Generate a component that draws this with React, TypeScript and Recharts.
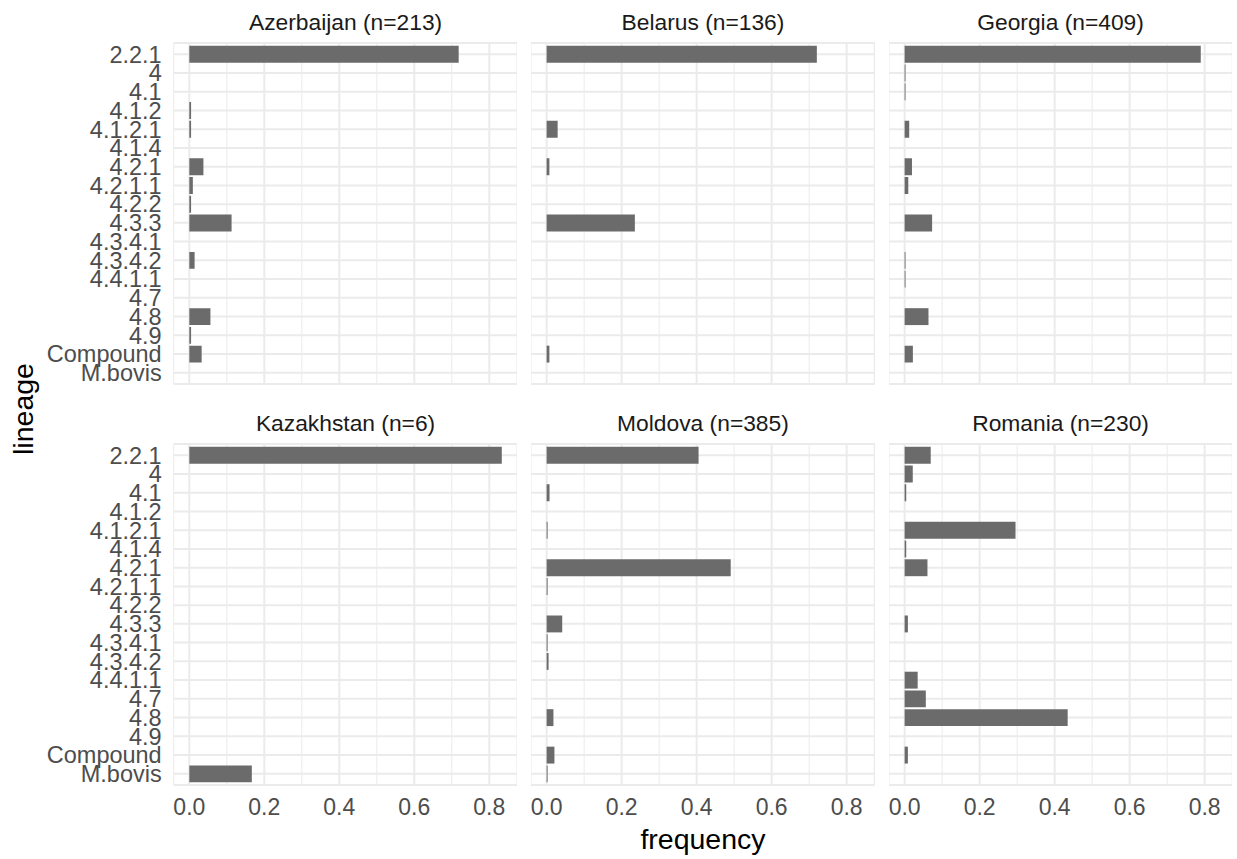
import { BarChart, Bar, XAxis, YAxis, CartesianGrid } from 'recharts'

const lineages = [
  '2.2.1', '4', '4.1', '4.1.2', '4.1.2.1', '4.1.4', '4.2.1', '4.2.1.1', '4.2.2',
  '4.3.3', '4.3.4.1', '4.3.4.2', '4.4.1.1', '4.7', '4.8', '4.9', 'Compound', 'M.bovis',
]

// frequency per lineage, same order as lineages
const azerbaijan = [0.7183, 0, 0, 0.0047, 0.0047, 0, 0.0376, 0.0094, 0.0047, 0.1127, 0, 0.0141, 0, 0, 0.0563, 0.0047, 0.0329, 0]
const belarus = [0.7206, 0, 0, 0, 0.0294, 0, 0.0074, 0, 0, 0.2353, 0, 0, 0, 0, 0, 0, 0.0074, 0]
const georgia = [0.7897, 0.0024, 0.0024, 0, 0.0122, 0, 0.0196, 0.0098, 0, 0.0733, 0, 0.0024, 0.0024, 0, 0.0636, 0, 0.022, 0]
const kazakhstan = [0.8333, 0, 0, 0, 0, 0, 0, 0, 0, 0, 0, 0, 0, 0, 0, 0, 0, 0.1667]
const moldova = [0.4052, 0, 0.0078, 0, 0.0026, 0, 0.4909, 0.0026, 0, 0.0416, 0.0026, 0.0052, 0, 0, 0.0182, 0, 0.0208, 0.0026]
const romania = [0.0696, 0.0217, 0.0043, 0, 0.2957, 0.0043, 0.0609, 0, 0, 0.0087, 0, 0, 0.0348, 0.0565, 0.4348, 0, 0.0087, 0]

const titles = [
  'Azerbaijan (n=213)', 'Belarus (n=136)', 'Georgia (n=409)',
  'Kazakhstan (n=6)', 'Moldova (n=385)', 'Romania (n=230)',
]
const series = [azerbaijan, belarus, georgia, kazakhstan, moldova, romania]

const xTicks = [0, 0.1, 0.2, 0.3, 0.4, 0.5, 0.6, 0.7, 0.8]
const xDomain = [-0.041667, 0.875]

// layout (px)
const colLeft = [173.7, 531.1, 888.7]
const rowTop = [42.7, 443.8]
const panelW = 343.75
const panelH = 341
const pad = 12 // room so edge tick labels are not clipped
const FONT = '"Liberation Sans", Arial, Helvetica, sans-serif'

const isMajor = (v: number) => Math.round(v * 10) % 2 === 0

type PanelProps = { title: string; values: number[]; col: number; row: number }

const Panel = ({ title, values, col, row }: PanelProps) => {
  const data = lineages.map((lineage, i) => ({ lineage, value: values[i] }))
  const left = col === 0 ? 0 : colLeft[col]
  const width = col === 0 ? colLeft[0] + panelW : panelW
  const height = panelH + 2 * pad + (row === 1 ? 40 : 0)

  return (
    <>
      {/* strip title */}
      <div
        style={{
          position: 'absolute',
          left: colLeft[col],
          top: rowTop[row] - 20.7 - 14,
          width: panelW,
          height: 28,
          lineHeight: '28px',
          textAlign: 'center',
          fontSize: 22.8,
          color: '#1a1a1a',
        }}
      >
        {title}
      </div>

      <div style={{ position: 'absolute', left, top: rowTop[row] - pad }}>
        <BarChart
          width={width}
          height={height}
          data={data}
          layout="vertical"
          margin={{ top: pad, right: 0, bottom: pad, left: 0 }}
        >
          <CartesianGrid
            stroke="#ebebeb"
            strokeWidth={2}
            vertical={(p: any) => (
              <line
                key={p.key}
                x1={p.x1}
                y1={p.y1}
                x2={p.x2}
                y2={p.y2}
                stroke="#ebebeb"
                strokeWidth={p.index % 2 === 0 ? 2 : 1}
              />
            )}
          />
          <XAxis
            type="number"
            domain={xDomain}
            ticks={xTicks}
            interval={0}
            allowDataOverflow
            hide={row === 0}
            height={40}
            axisLine={false}
            tickLine={false}
            tickSize={0}
            tickMargin={14}
            tick={{ fill: '#4d4d4d', fontSize: 23 }}
            tickFormatter={(v: number) => (isMajor(v) ? v.toFixed(1) : '')}
          />
          <YAxis
            type="category"
            dataKey="lineage"
            hide={col !== 0}
            width={colLeft[0]}
            padding={{ top: 1.87, bottom: 1.87 }}
            interval={0}
            axisLine={false}
            tickLine={false}
            tickSize={0}
            tickMargin={12}
            tick={{ fill: '#4d4d4d', fontSize: 23.5 }}
          />
          <Bar dataKey="value" fill="#6b6b6b" barSize={16.9} isAnimationActive={false} />
        </BarChart>
      </div>
    </>
  )
}

export default function App() {
  return (
    <div
      style={{
        position: 'absolute',
        left: 0,
        top: 0,
        width: 1237,
        height: 859,
        background: '#fff',
        fontFamily: FONT,
        overflow: 'hidden',
      }}
    >
      {series.map((values, i) => (
        <Panel key={titles[i]} title={titles[i]} values={values} col={i % 3} row={Math.floor(i / 3)} />
      ))}

      {/* axis titles */}
      <div
        style={{
          position: 'absolute',
          left: 403,
          top: 822,
          width: 600,
          textAlign: 'center',
          fontSize: 28.5,
          lineHeight: '34px',
          color: '#000',
        }}
      >
        frequency
      </div>
      <div
        style={{
          position: 'absolute',
          left: 22.5 - 60,
          top: 409 - 17,
          width: 120,
          height: 34,
          lineHeight: '34px',
          textAlign: 'center',
          fontSize: 28.5,
          color: '#000',
          transform: 'rotate(-90deg)',
        }}
      >
        lineage
      </div>
    </div>
  )
}
